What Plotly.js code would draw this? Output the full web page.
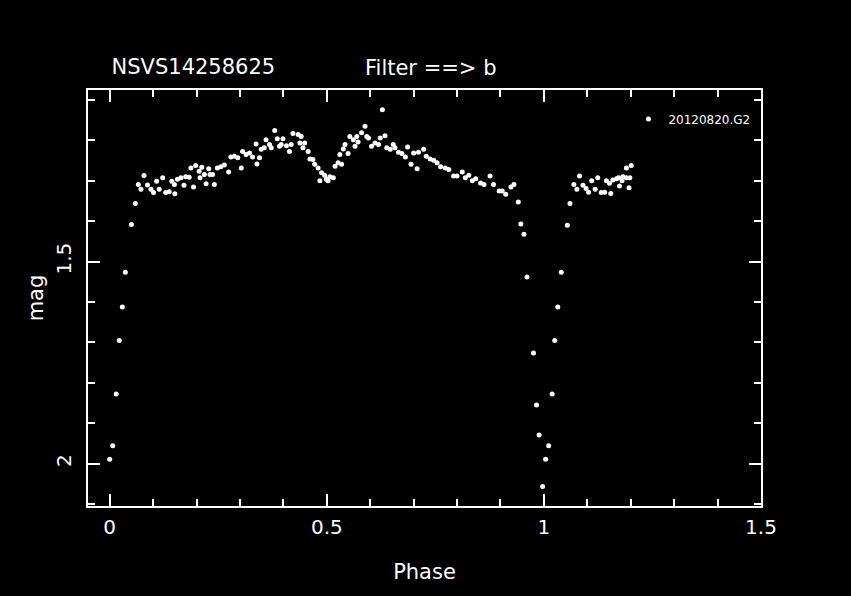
<!DOCTYPE html>
<html>
<head>
<meta charset="utf-8">
<script src="https://cdn.plot.ly/plotly-3.0.1.min.js"></script>
<style>
  html, body { margin: 0; padding: 0; background: #000; }
  #chart { width: 851px; height: 596px; }
</style>
</head>
<body>
<div id="chart"></div>
<script>
// Light curve of NSVS14258625, filter b, night 20120820.G2
const seriesName = "20120820.G2";
const phase = [
  0.000, 0.007, 0.015, 0.022, 0.029, 0.036, 0.050, 0.059, 0.066, 0.072,
  0.079, 0.087, 0.095, 0.101, 0.108, 0.114, 0.122, 0.129, 0.137, 0.143,
  0.150, 0.149, 0.156, 0.164, 0.171, 0.175, 0.183, 0.187, 0.193, 0.198,
  0.206, 0.212, 0.208, 0.218, 0.222, 0.228, 0.231, 0.237, 0.241, 0.248,
  0.256, 0.264, 0.274, 0.279, 0.287, 0.295, 0.303, 0.306, 0.314, 0.322,
  0.329, 0.337, 0.339, 0.345, 0.349, 0.356, 0.360, 0.368, 0.372, 0.380,
  0.386, 0.391, 0.399, 0.395, 0.407, 0.414, 0.418, 0.422, 0.434, 0.441,
  0.438, 0.445, 0.449, 0.457, 0.461, 0.468, 0.472, 0.480, 0.488, 0.484,
  0.495, 0.499, 0.507, 0.503, 0.515, 0.519, 0.526, 0.534, 0.530, 0.542,
  0.538, 0.549, 0.553, 0.561, 0.565, 0.572, 0.569, 0.580, 0.588, 0.592,
  0.596, 0.603, 0.611, 0.619, 0.623, 0.634, 0.628, 0.638, 0.646, 0.653,
  0.657, 0.665, 0.673, 0.681, 0.686, 0.694, 0.700, 0.708, 0.711, 0.723,
  0.729, 0.738, 0.746, 0.754, 0.762, 0.773, 0.781, 0.792, 0.800, 0.812,
  0.819, 0.827, 0.835, 0.843, 0.854, 0.862, 0.876, 0.884, 0.897, 0.904,
  0.912, 0.924, 0.931, 0.941, 0.947, 0.954, 0.961, 0.976, 0.983, 0.989,
  0.997, 1.004, 1.011, 1.019, 1.025, 1.032, 1.040, 1.054, 1.060, 1.069,
  1.076, 1.082, 1.090, 1.097, 1.103, 1.110, 1.118, 1.124, 1.132, 1.140,
  1.144, 1.151, 1.154, 1.159, 1.167, 1.172, 1.174, 1.180, 1.182, 1.190,
  1.196, 1.198, 1.190, 1.201
];
const mag = [
  1.989, 1.956, 1.828, 1.695, 1.612, 1.526, 1.408, 1.356, 1.309, 1.321,
  1.287, 1.310, 1.321, 1.329, 1.301, 1.321, 1.292, 1.329, 1.327, 1.301,
  1.332, 1.309, 1.296, 1.292, 1.311, 1.290, 1.291, 1.268, 1.315, 1.262,
  1.276, 1.266, 1.292, 1.284, 1.307, 1.270, 1.284, 1.284, 1.309, 1.268,
  1.265, 1.261, 1.278, 1.241, 1.239, 1.243, 1.268, 1.227, 1.235, 1.231,
  1.241, 1.209, 1.258, 1.243, 1.222, 1.218, 1.198, 1.210, 1.218, 1.175,
  1.196, 1.214, 1.196, 1.210, 1.213, 1.227, 1.210, 1.183, 1.185, 1.190,
  1.206, 1.218, 1.206, 1.227, 1.246, 1.247, 1.259, 1.268, 1.280, 1.300,
  1.286, 1.296, 1.290, 1.300, 1.292, 1.264, 1.255, 1.259, 1.235, 1.210,
  1.221, 1.232, 1.190, 1.198, 1.214, 1.204, 1.190, 1.181, 1.165, 1.190,
  1.194, 1.214, 1.206, 1.210, 1.194, 1.188, 1.124, 1.218, 1.222, 1.210,
  1.218, 1.229, 1.232, 1.241, 1.216, 1.259, 1.231, 1.270, 1.229, 1.222,
  1.239, 1.246, 1.249, 1.255, 1.265, 1.268, 1.272, 1.288, 1.288, 1.278,
  1.292, 1.286, 1.300, 1.295, 1.305, 1.309, 1.288, 1.309, 1.325, 1.325,
  1.333, 1.315, 1.309, 1.352, 1.407, 1.432, 1.538, 1.726, 1.855, 1.929,
  2.057, 1.989, 1.956, 1.828, 1.695, 1.612, 1.526, 1.410, 1.356, 1.309,
  1.321, 1.288, 1.311, 1.319, 1.328, 1.300, 1.321, 1.292, 1.329, 1.328,
  1.300, 1.306, 1.331, 1.298, 1.295, 1.292, 1.313, 1.300, 1.290, 1.292,
  1.317, 1.292, 1.268, 1.262
];
const xTickVals = [0, 0.5, 1, 1.5];
const xTickText = ["0", "0.5", "1", "1.5"];
const yTickVals = [1.5, 2];
const yTickText = ["1.5", "2"];
const titleText = "NSVS14258625";
const filterText = "Filter ==> b";

const FONT = "DejaVu Sans, Liberation Sans, sans-serif";

const trace = {
  x: phase,
  y: mag,
  type: "scatter",
  mode: "markers",
  name: seriesName,
  marker: { color: "#ffffff", size: 5, line: { width: 0 } },
  showlegend: true
};

const axisCommon = {
  showline: true,
  linecolor: "#ffffff",
  linewidth: 2,
  mirror: "allticks",
  ticks: "inside",
  ticklen: 12,
  tickwidth: 2,
  tickcolor: "#ffffff",
  showgrid: false,
  zeroline: false,
  tickfont: { family: FONT, size: 20, color: "#ffffff" },
  minor: { dtick: 0.1, tick0: 0, ticks: "inside", ticklen: 7, tickwidth: 2, tickcolor: "#ffffff", showgrid: false }
};

const layout = {
  width: 851,
  height: 596,
  paper_bgcolor: "#000000",
  plot_bgcolor: "#000000",
  margin: { l: 88, r: 90, t: 90, b: 90, pad: 0 },
  font: { family: FONT, color: "#ffffff" },
  title: {
    text: titleText,
    font: { family: FONT, size: 21, color: "#ffffff" },
    xref: "paper", x: 0.035, xanchor: "left",
    yref: "container", y: 0.888, yanchor: "middle"
  },
  xaxis: Object.assign({}, axisCommon, {
    range: [-0.05, 1.5],
    tickmode: "array",
    tickvals: xTickVals,
    ticktext: xTickText,
    ticklabelstandoff: 2,
    title: { text: "Phase", font: { family: FONT, size: 21, color: "#ffffff" }, standoff: 26 }
  }),
  yaxis: Object.assign({}, axisCommon, {
    range: [2.105, 1.075],
    tickmode: "array",
    tickvals: yTickVals,
    ticktext: yTickText,
    tickangle: -90,
    ticklabelstandoff: 7,
    title: { text: "mag", font: { family: FONT, size: 21, color: "#ffffff" }, standoff: 3 }
  }),
  showlegend: true,
  legend: {
    x: 0.803, y: 0.965, xanchor: "left", yanchor: "top",
    bgcolor: "rgba(0,0,0,0)",
    borderwidth: 0,
    font: { family: FONT, size: 12, color: "#ffffff" }
  },
  annotations: [
    {
      text: filterText,
      xref: "paper", yref: "paper",
      x: 0.408, y: 1.054, xanchor: "left", yanchor: "middle",
      showarrow: false,
      font: { family: FONT, size: 21, color: "#ffffff" }
    }
  ]
};

Plotly.newPlot("chart", [trace], layout, { displayModeBar: false, staticPlot: true });
</script>
</body>
</html>
